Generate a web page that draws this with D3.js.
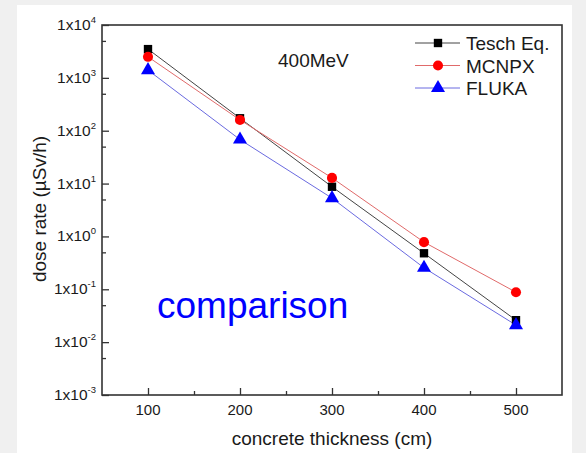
<!DOCTYPE html>
<html>
<head>
<meta charset="utf-8">
<script src="https://cdn.jsdelivr.net/npm/d3@7"></script>
<style>
  html, body { margin: 0; padding: 0; background: #f0f0f0; }
  svg { display: block; }
  text { font-family: "Liberation Sans", Arial, sans-serif; fill: #1a1a1a; }
</style>
</head>
<body>
<svg id="chart" width="586" height="453"></svg>
<script>
// Shielding thickness (cm) and dose rates (µSv/h) behind concrete, 400 MeV
const thickness = [100, 200, 300, 400, 500];
const teschEq = [3500, 172, 8.7, 0.48, 0.026];
const mcnpx   = [2500, 160, 12.8, 0.78, 0.088];
const fluka   = [1400, 68, 5.3, 0.255, 0.021];

const seriesNames = ["Tesch Eq.", "MCNPX", "FLUKA"];
const seriesValues = [teschEq, mcnpx, fluka];
const seriesColors = ["#000000", "#ff0000", "#0000ff"];
const lineColors = ["#444444", "#e06a6a", "#6a6ae0"];
const seriesSymbols = [d3.symbolSquare, d3.symbolCircle, d3.symbolTriangle];
const symbolSizes = [70, 80, 85];

const xTicks = [100, 200, 300, 400, 500];
const xMinorTicks = [150, 250, 350, 450];
const yExponents = [-3, -2, -1, 0, 1, 2, 3, 4];

const svg = d3.select("#chart");

// white page panel
svg.append("rect").attr("x", 17).attr("y", 5).attr("width", 555).attr("height", 448).attr("fill", "#ffffff");

const plot = { left: 102, right: 562, top: 25, bottom: 395 };

const x = d3.scaleLinear().domain([50, 550]).range([plot.left, plot.right]);
const y = d3.scaleLog().domain([1e-3, 1e4]).range([plot.bottom, plot.top]);

const frameColor = "#333333";

// x axis ticks (inward)
const xAxis = d3.axisBottom(x).tickValues(xTicks).tickSize(-7).tickFormat("");
const gx = svg.append("g").attr("transform", `translate(0,${plot.bottom})`).call(xAxis);
gx.select(".domain").remove();
gx.selectAll(".tick line").attr("stroke", frameColor).attr("stroke-width", 1.3);

const xMinor = d3.axisBottom(x).tickValues(xMinorTicks).tickSize(-4).tickFormat("");
const gxm = svg.append("g").attr("transform", `translate(0,${plot.bottom})`).call(xMinor);
gxm.select(".domain").remove();
gxm.selectAll(".tick line").attr("stroke", frameColor).attr("stroke-width", 1.3);

// x tick labels
svg.append("g").selectAll("text").data(xTicks).join("text")
  .attr("x", d => x(d)).attr("y", 415)
  .attr("text-anchor", "middle").attr("font-size", 15)
  .text(d => d);

// y axis ticks (inward), majors at decades, minors at 5×10^n
const yMajor = yExponents.map(e => Math.pow(10, e));
const yMinor = yExponents.slice(0, -1).map(e => 5 * Math.pow(10, e));

const yAxis = d3.axisLeft(y).tickValues(yMajor).tickSize(-7).tickFormat("");
const gy = svg.append("g").attr("transform", `translate(${plot.left},0)`).call(yAxis);
gy.select(".domain").remove();
gy.selectAll(".tick line").attr("stroke", frameColor).attr("stroke-width", 1.3);

const yMin = d3.axisLeft(y).tickValues(yMinor).tickSize(-4).tickFormat("");
const gym = svg.append("g").attr("transform", `translate(${plot.left},0)`).call(yMin);
gym.select(".domain").remove();
gym.selectAll(".tick line").attr("stroke", frameColor).attr("stroke-width", 1.3);

// y tick labels "1x10^n"
const yLab = svg.append("g").selectAll("text").data(yExponents).join("text")
  .attr("x", 96).attr("y", d => y(Math.pow(10, d)) + 5)
  .attr("text-anchor", "end").attr("font-size", 15.5);
yLab.append("tspan").text("1x10");
yLab.append("tspan").attr("font-size", 9.5).attr("dy", -7).text(d => d);

// series lines and markers
const line = d3.line().x((d, i) => x(thickness[i])).y(d => y(d));
seriesValues.forEach((vals, k) => {
  svg.append("path").datum(vals)
    .attr("d", line).attr("fill", "none")
    .attr("stroke", lineColors[k]).attr("stroke-width", 1);
});
seriesValues.forEach((vals, k) => {
  svg.append("g").selectAll("path").data(vals).join("path")
    .attr("transform", (d, i) => `translate(${x(thickness[i])},${y(d)})`)
    .attr("d", d3.symbol().type(seriesSymbols[k]).size(symbolSizes[k]))
    .attr("fill", seriesColors[k]);
});

// plot frame
svg.append("rect")
  .attr("x", plot.left).attr("y", plot.top)
  .attr("width", plot.right - plot.left).attr("height", plot.bottom - plot.top)
  .attr("fill", "none").attr("stroke", frameColor).attr("stroke-width", 1.6);

// legend
const legend = svg.append("g");
seriesNames.forEach((name, k) => {
  const ly = 43 + k * 22.5;
  legend.append("line").attr("x1", 415).attr("x2", 460).attr("y1", ly).attr("y2", ly)
    .attr("stroke", lineColors[k]).attr("stroke-width", 1);
  legend.append("path").attr("transform", `translate(438,${ly})`)
    .attr("d", d3.symbol().type(seriesSymbols[k]).size(symbolSizes[k]))
    .attr("fill", seriesColors[k]);
  legend.append("text").attr("x", 466).attr("y", ly + 7).attr("font-size", 19).text(name);
});

// annotations
svg.append("text").attr("x", 278).attr("y", 67).attr("font-size", 19).text("400MeV");
svg.append("text").attr("x", 157).attr("y", 318).attr("font-size", 37)
  .style("fill", "#0000ff").text("comparison");

// axis titles
svg.append("text").attr("x", 332).attr("y", 445).attr("text-anchor", "middle")
  .attr("font-size", 19).text("concrete thickness (cm)");
svg.append("text").attr("transform", "translate(46,209) rotate(-90)")
  .attr("text-anchor", "middle").attr("font-size", 19).text("dose rate (µSv/h)");
</script>
</body>
</html>
